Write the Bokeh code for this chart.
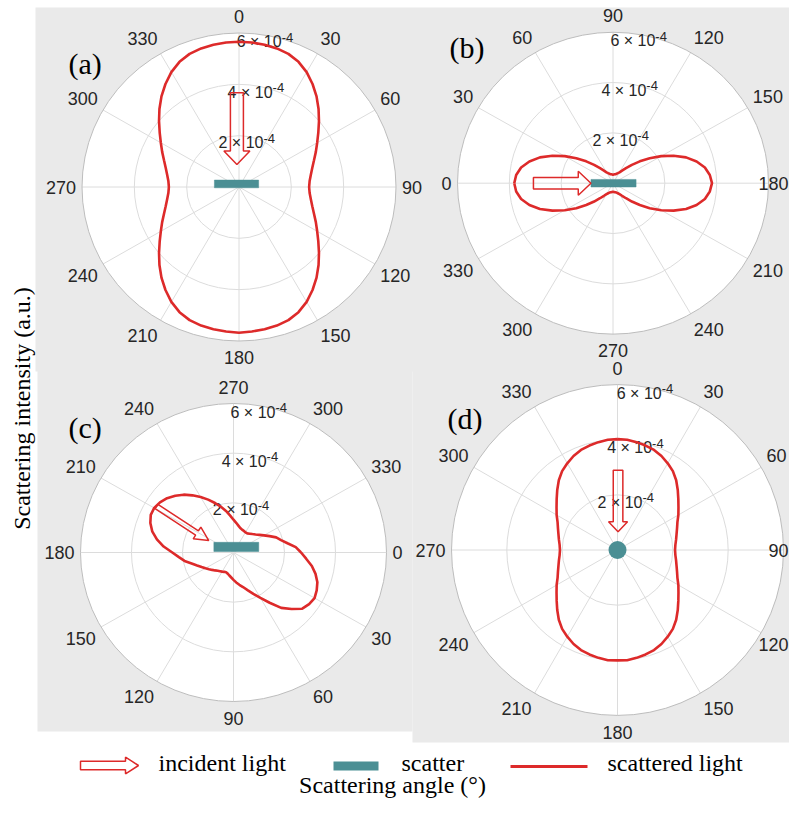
import numpy as np
from bokeh.plotting import figure
from bokeh.models import Range1d
from bokeh.embed import file_html
from bokeh.resources import INLINE
from bokeh.core.properties import value

# ---------------- data (scattering intensity, units of 1e-4 a.u.) ----------------
ANGLE_DEG = list(range(0, 360, 5))           # scattering angle of each sample (deg)

INTENSITY_A = [5.66, 5.65, 5.63, 5.59, 5.52, 5.38, 5.17, 4.90, 4.61, 4.30, 3.99, 3.70,
               3.45, 3.24, 3.05, 2.90, 2.79, 2.71,
               2.68, 2.71, 2.79, 2.90, 3.05, 3.24, 3.45, 3.70, 3.99, 4.30, 4.61, 4.90,
               5.17, 5.38, 5.52, 5.59, 5.63, 5.65,
               5.68, 5.65, 5.63, 5.59, 5.52, 5.38, 5.17, 4.90, 4.61, 4.30, 3.99, 3.70,
               3.45, 3.24, 3.05, 2.90, 2.79, 2.71,
               2.68, 2.71, 2.79, 2.90, 3.05, 3.24, 3.45, 3.70, 3.99, 4.30, 4.61, 4.90,
               5.17, 5.38, 5.52, 5.59, 5.63, 5.65]
INTENSITY_B = [3.81, 3.75, 3.60, 3.34, 3.00, 2.58, 2.15, 1.73, 1.35, 1.03, 0.78, 0.61,
               0.50, 0.44, 0.40, 0.37, 0.36, 0.35,
               0.34, 0.35, 0.36, 0.37, 0.40, 0.44, 0.50, 0.61, 0.78, 1.03, 1.35, 1.73,
               2.15, 2.58, 3.00, 3.34, 3.60, 3.75,
               3.82, 3.75, 3.60, 3.34, 3.00, 2.58, 2.15, 1.73, 1.35, 1.03, 0.78, 0.61,
               0.50, 0.44, 0.40, 0.37, 0.36, 0.35,
               0.34, 0.35, 0.36, 0.37, 0.40, 0.44, 0.50, 0.61, 0.78, 1.03, 1.35, 1.73,
               2.15, 2.58, 3.00, 3.34, 3.60, 3.75]
INTENSITY_C = [2.65, 2.86, 3.12, 3.33, 3.50, 3.60, 3.67, 3.62, 3.52, 3.22, 2.91, 2.47,
               2.11, 1.84, 1.61, 1.44, 1.32, 1.21,
               1.10, 1.01, 0.94, 0.88, 0.85, 0.86, 0.89, 0.92, 0.96, 1.02, 1.09, 1.17,
               1.27, 1.38, 1.52, 1.70, 1.95, 2.15,
               2.40, 2.75, 3.05, 3.30, 3.47, 3.58, 3.59, 3.52, 3.40, 3.23, 3.04, 2.81,
               2.58, 2.35, 2.12, 1.91, 1.70, 1.49,
               1.32, 1.20, 1.10, 1.02, 0.98, 0.96, 0.94, 0.94, 0.99, 1.05, 1.13, 1.24,
               1.38, 1.56, 1.78, 1.93, 2.15, 2.45]
INTENSITY_D = [4.02, 4.01, 3.97, 3.92, 3.86, 3.76, 3.63, 3.49, 3.30, 3.08, 2.87, 2.69,
               2.54, 2.39, 2.29, 2.21, 2.15, 2.10,
               2.08, 2.10, 2.15, 2.21, 2.29, 2.39, 2.54, 2.69, 2.87, 3.08, 3.30, 3.49,
               3.63, 3.76, 3.86, 3.92, 3.97, 4.01,
               4.00, 4.01, 3.97, 3.92, 3.86, 3.76, 3.63, 3.49, 3.30, 3.08, 2.87, 2.69,
               2.54, 2.39, 2.29, 2.21, 2.15, 2.10,
               2.08, 2.10, 2.15, 2.21, 2.29, 2.39, 2.54, 2.69, 2.87, 3.08, 3.30, 3.49,
               3.63, 3.76, 3.86, 3.92, 3.97, 4.01]

THETA_TICKS = list(range(0, 360, 30))
R_TICKS = [2, 4, 6]                       # x 1e-4
R_TICK_LABELS = ["2 × 10", "4 × 10", "6 × 10"]
R_TICK_EXP = "-4"
R_MAX = 6

PANEL_LABELS = ["(a)", "(b)", "(c)", "(d)"]
LEGEND_LABELS = ["incident light", "scatter", "scattered light"]
X_TITLE = "Scattering angle (°)"
Y_TITLE = "Scattering intensity (a.u.)"

# ---------------- styling / layout ----------------
GRAY = "#eaeaea"
GRID = "#dcdcdc"
OUTER = "#bdbdbd"
RED = "#dd2a2a"
TEAL = "#4b8f94"
TXT = "#262626"
SANS = value("Liberation Sans")
SERIF = value("Liberation Serif")

W, H = 789, 799

PANELS = [
    dict(key="a", data=INTENSITY_A, c=(238.5, 186.5), rh=157.0, rv=154.0, zero=90),
    dict(key="b", data=INTENSITY_B, c=(612.5, 182.7), rh=155.5, rv=151.0, zero=180),
    dict(key="c", data=INTENSITY_C, c=(233.0, 552.0), rh=153.0, rv=149.0, zero=0),
    dict(key="d", data=INTENSITY_D, c=(617.0, 549.5), rh=166.0, rv=165.5, zero=90),
]
LABEL_POS = [(68, 63), (449, 47), (68, 427), (447, 418)]

BARS = {"a": (-0.94, 0.75, -0.03, 0.27), "b": (-0.85, 0.89, -0.15, 0.15),
        "c": (-0.77, 0.99, 0.04, 0.41)}
DOT_D = ("d", 0.0, 0.0, 9.0)
ARROWS = {
    "a": dict(tail=(-0.08, 3.67), tip=(-0.08, 0.88), shaft=6.5, head=13.0, hl=13.5),
    "b": dict(tail=(-3.07, 0.0), tip=(-0.85, 0.0), shaft=5.8, head=12.0, hl=12.7),
    "c": dict(tail=(-3.02, 1.85), tip=(-0.97, 0.48), shaft=2.6, head=7.0, hl=14.0),
    "d": dict(tail=(0.02, 2.89), tip=(0.02, 0.66), shaft=4.8, head=9.5, hl=10.0),
}


def arrow_poly(tail, tip, hws, hwh, hl):
    tx, ty = tail
    hx, hy = tip
    dx, dy = hx - tx, hy - ty
    L = float(np.hypot(dx, dy))
    ux, uy = dx / L, dy / L
    nx, ny = -uy, ux
    bx, by = hx - ux * hl, hy - uy * hl
    pts = [(tx + nx * hws, ty + ny * hws), (bx + nx * hws, by + ny * hws),
           (bx + nx * hwh, by + ny * hwh), (hx, hy),
           (bx - nx * hwh, by - ny * hwh), (bx - nx * hws, by - ny * hws),
           (tx - nx * hws, ty - ny * hws)]
    xs, ys = zip(*pts)
    return np.array(xs), np.array(ys)


p = figure(width=W, height=H, x_range=Range1d(0, W), y_range=Range1d(H, 0),
           output_backend="svg", toolbar_location=None, min_border=0,
           x_axis_location=None, y_axis_location=None)
p.grid.visible = False
p.outline_line_color = None
p.background_fill_color = "white"
p.border_fill_color = "white"

# panel backgrounds
p.quad(left=[35, 37, 412], right=[805, 412, 805], top=[7, 369, 369],
       bottom=[371, 731, 742], fill_color=GRAY, line_color=None)

for pan, (lx, ly), plabel in zip(PANELS, LABEL_POS, PANEL_LABELS):
    k = pan["key"]
    cx, cy = pan["c"]
    sx, sy = pan["rh"] / R_MAX, pan["rv"] / R_MAX
    xr, yr = k + "_x", k + "_y"
    p.extra_x_ranges[xr] = Range1d((0 - cx) / sx, (W - cx) / sx)
    p.extra_y_ranges[yr] = Range1d((cy - H) / sy, (cy - 0) / sy)
    kw = dict(x_range_name=xr, y_range_name=yr)

    def polar(theta_deg, r, zero=pan["zero"]):
        phi = np.radians(zero - np.asarray(theta_deg, dtype=float))
        r = np.asarray(r, dtype=float)
        return r * np.cos(phi), r * np.sin(phi)

    # disk, rings, spokes
    p.ellipse(x=0, y=0, width=2 * R_MAX, height=2 * R_MAX, fill_color="white",
              line_color=None, **kw)
    inner = R_TICKS[:-1]
    p.ellipse(x=[0] * len(inner), y=[0] * len(inner), width=[2 * r for r in inner],
              height=[2 * r for r in inner], fill_color=None, line_color=GRID,
              line_width=1, **kw)
    sp = THETA_TICKS[:6]
    x0, y0 = polar(sp, [R_MAX] * 6)
    p.segment(x0=list(x0), y0=list(y0), x1=list(-x0), y1=list(-y0),
              line_color=GRID, line_width=1, **kw)
    p.ellipse(x=0, y=0, width=2 * R_MAX, height=2 * R_MAX, fill_color=None,
              line_color=OUTER, line_width=1, **kw)

    # theta tick labels (placed by their centre line, outside the rim)
    for t in THETA_TICKS:
        phi = np.radians(pan["zero"] - t)
        c, s = np.cos(phi), np.sin(phi)
        txp = (pan["rh"] + 6) * c
        if s > 0.2:
            typ = (pan["rv"] + 10) * s + 6.5
        elif s < -0.2:
            typ = (pan["rv"] + 10) * s - 6.5
        else:
            typ = 0.0
        align = "left" if c > 0.2 else ("right" if c < -0.2 else "center")
        est_w = 0.556 * 18 * len(str(t))
        if align == "left" and cx + txp + est_w > W - 1:
            align = "right"
            txp = W - 1 - cx
        p.text(x=[txp / sx], y=[typ / sy], text=[str(t)], text_font=SANS,
               text_font_size="18px", text_color=TXT, text_align=align,
               text_baseline="middle", **kw)

    # radial tick labels (10 deg right of vertical on screen)
    ang = np.radians(80)
    for r, lab in zip(R_TICKS, R_TICK_LABELS):
        lxp = (r * sx - 6.5) * np.cos(ang) + 16.5
        lyp = (r * sy - 6.5) * np.sin(ang)
        p.text(x=[lxp / sx], y=[lyp / sy], text=[lab], text_font=SANS,
               text_font_size="16px", text_color=TXT, text_align="right",
               text_baseline="middle", **kw)
        p.text(x=[lxp / sx], y=[(lyp + 4.5) / sy], text=[R_TICK_EXP], text_font=SANS,
               text_font_size="13px", text_color=TXT, text_align="left",
               text_baseline="middle", **kw)

    # scatterer
    if k in BARS:
        l, rr, b, tp = BARS[k]
        p.quad(left=[l], right=[rr], bottom=[b], top=[tp], fill_color=TEAL,
               line_color=TEAL, line_width=0.5, **kw)
    if k == DOT_D[0]:
        p.ellipse(x=[DOT_D[1]], y=[DOT_D[2]], width=[2 * DOT_D[3] / sx],
                  height=[2 * DOT_D[3] / sy], fill_color=TEAL, line_color=None, **kw)

    # scattered light curve
    th = ANGLE_DEG + [ANGLE_DEG[0]]
    rv = pan["data"] + [pan["data"][0]]
    xs, ys = polar(th, rv)
    p.line(x=list(xs), y=list(ys), line_color=RED, line_width=2.6, **kw)

    # incident light arrow (outline only)
    a = ARROWS[k]
    ax, ay = arrow_poly((a["tail"][0] * sx, a["tail"][1] * sy),
                        (a["tip"][0] * sx, a["tip"][1] * sy), a["shaft"], a["head"], a["hl"])
    p.patch(x=list(ax / sx), y=list(ay / sy), fill_color=None, line_color=RED,
            line_width=1.5, **kw)

    # panel label
    p.text(x=[lx], y=[ly], text=[plabel], text_font=SERIF, text_font_size="30px",
           text_color="black", text_align="left", text_baseline="middle")

# ---------------- legend ----------------
lax, lay = arrow_poly((80, 765), (138, 765), 4.2, 8.3, 13)
p.patch(x=list(lax), y=list(lay), fill_color="white", line_color=RED, line_width=1.5)
p.quad(left=[333], right=[378], top=[761], bottom=[770], fill_color=TEAL, line_color=None)
p.line(x=[510, 587], y=[766, 766], line_color=RED, line_width=3)
for xx, lab in zip([158, 401, 607], LEGEND_LABELS):
    p.text(x=[xx], y=[762], text=[lab], text_font=SERIF, text_font_size="24px",
           text_color="black", text_align="left", text_baseline="middle")

# axis titles
p.text(x=[392], y=[784], text=[X_TITLE], text_font=SERIF, text_font_size="24px",
       text_color="black", text_align="center", text_baseline="middle")
p.text(x=[21], y=[408], text=[Y_TITLE], text_font=SERIF, text_font_size="24px",
       text_color="black", text_align="center", text_baseline="middle",
       angle=np.pi / 2)

open("out.html", "w").write(file_html(p, INLINE, title="scattering"))
